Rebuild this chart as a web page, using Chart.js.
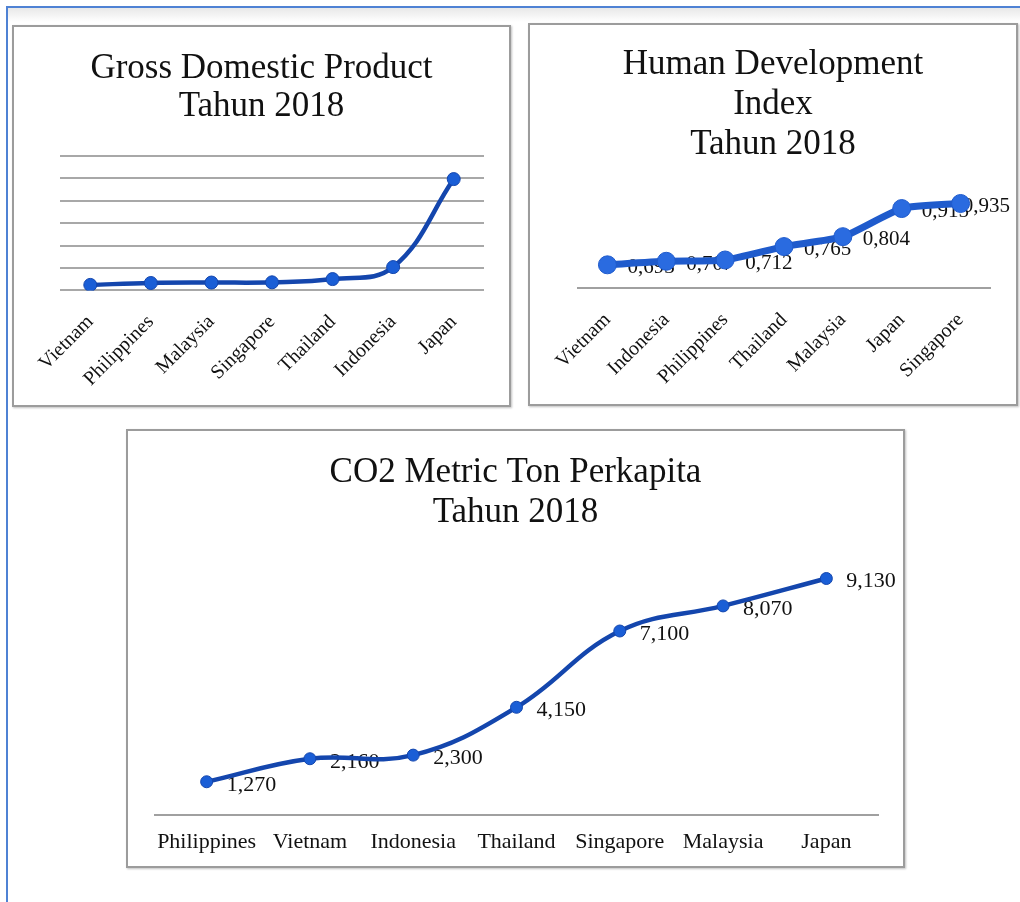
<!DOCTYPE html>
<html>
<head>
<meta charset="utf-8">
<script src="https://cdn.jsdelivr.net/npm/chart.js@4.4.1/dist/chart.umd.min.js"></script>
<style>
  body { margin: 0; background: #fff; width: 1020px; height: 902px; position: relative; overflow: hidden; }
  .frame-top { position: absolute; left: 6px; top: 6px; right: 0; height: 2px; background: #4f82d4; }
  .frame-left { position: absolute; left: 6px; top: 6px; bottom: 0; width: 2px; background: #4f82d4; }
  .shade { position: absolute; left: 8px; top: 8px; right: 0; height: 14px; background: linear-gradient(#e8e8e8, #fff); }
  .panel { position: absolute; border: 2px solid #9c9c9c; box-shadow: 1px 1px 2px rgba(0,0,0,.25); background: #fff; }
  .panel canvas { display: block; }
</style>
</head>
<body>
<div class="frame-top"></div>
<div class="shade"></div>
<div class="frame-left"></div>

<div class="panel" style="left:12px; top:25px;"><canvas id="gdp-chart" width="495" height="378"></canvas></div>
<div class="panel" style="left:528px; top:23px;"><canvas id="hdi-chart" width="486" height="379"></canvas></div>
<div class="panel" style="left:126px; top:429px;"><canvas id="co2-chart" width="775" height="435"></canvas></div>

<script>
// data
const gdpCountries = ['Vietnam', 'Philippines', 'Malaysia', 'Singapore', 'Thailand', 'Indonesia', 'Japan'];
const gdpValues = [245, 330, 350, 360, 505, 1040, 4970]; // USD billion, no tick labels shown
const gdpMax = 6000;
const gdpStep = 1000;

const hdiCountries = ['Vietnam', 'Indonesia', 'Philippines', 'Thailand', 'Malaysia', 'Japan', 'Singapore'];
const hdiValues = [0.693, 0.707, 0.712, 0.765, 0.804, 0.915, 0.935];

const co2Countries = ['Philippines', 'Vietnam', 'Indonesia', 'Thailand', 'Singapore', 'Malaysia', 'Japan'];
const co2Values = [1.27, 2.16, 2.30, 4.15, 7.10, 8.07, 9.13];

const serif = "'Liberation Serif', 'Times New Roman', serif";
const textColor = '#111';

// value labels drawn beside each point (before the line, so the line sits on top)
const valueLabels = {
  id: 'valueLabels',
  beforeDatasetsDraw(chart, args, opts) {
    if (!opts.show) return;
    const ctx = chart.ctx;
    const meta = chart.getDatasetMeta(0);
    const data = chart.data.datasets[0].data;
    ctx.save();
    ctx.font = opts.size + 'px ' + serif;
    ctx.fillStyle = textColor;
    ctx.textAlign = 'left';
    ctx.textBaseline = 'middle';
    meta.data.forEach((pt, i) => {
      const txt = data[i].toFixed(3).replace('.', ',');
      let x = pt.x + opts.dx;
      const w = ctx.measureText(txt).width;
      // keep the label inside the panel, like the spreadsheet does
      if (x + w > chart.width - 6) x = chart.width - 6 - w;
      ctx.fillText(txt, x, pt.y + opts.dy);
    });
    ctx.restore();
  }
};

new Chart(document.getElementById('gdp-chart'), {
  type: 'line',
  data: {
    labels: gdpCountries,
    datasets: [{
      data: gdpValues,
      borderColor: '#1446ad',
      borderWidth: 4.5,
      backgroundColor: '#1a5ed6',
      pointBackgroundColor: '#1a5ed6',
      pointBorderColor: '#1446ad',
      pointBorderWidth: 1,
      pointRadius: 6.5,
      tension: 0.4
    }]
  },
  options: {
    responsive: false,
    animation: false,
    layout: { padding: { left: 25, right: 25, top: 0, bottom: -6 } },
    plugins: {
      legend: { display: false },
      tooltip: { enabled: false },
      title: {
        display: true,
        text: ['Gross Domestic Product', 'Tahun 2018'],
        color: textColor,
        font: { family: serif, size: 35, weight: 'normal', lineHeight: 1.086 },
        padding: { top: 23, bottom: 30 }
      }
    },
    scales: {
      x: {
        offset: true,
        grid: { display: false, drawTicks: false },
        border: { display: false },
        ticks: {
          autoSkip: false, minRotation: 45, maxRotation: 45, padding: 20,
          color: textColor, font: { family: serif, size: 20 }
        }
      },
      y: {
        min: 0, max: gdpMax,
        grid: { color: '#a8a8a8', lineWidth: 2, drawTicks: false },
        border: { display: false },
        ticks: { display: false, stepSize: gdpStep },
        afterFit(axis) { axis.width = 21; }
      }
    }
  }
});

new Chart(document.getElementById('hdi-chart'), {
  type: 'line',
  data: {
    labels: hdiCountries,
    datasets: [{
      data: hdiValues,
      borderColor: '#1f5bcc',
      borderWidth: 7,
      backgroundColor: '#2a6be0',
      pointBackgroundColor: '#2a6be0',
      pointBorderColor: '#1f5bcc',
      pointBorderWidth: 1,
      pointRadius: 9,
      tension: 0.2
    }]
  },
  options: {
    responsive: false,
    animation: false,
    layout: { padding: { left: 26, right: 26, top: 0, bottom: -5 } },
    plugins: {
      legend: { display: false },
      tooltip: { enabled: false },
      valueLabels: { show: true, size: 21, dx: 20, dy: 3 },
      title: {
        display: true,
        text: ['Human Development', 'Index', 'Tahun 2018'],
        color: textColor,
        font: { family: serif, size: 35, weight: 'normal', lineHeight: 1.143 },
        padding: { top: 20, bottom: 22 }
      }
    },
    scales: {
      x: {
        offset: true,
        grid: { display: false, drawTicks: false },
        border: { display: true, color: '#a0a0a0', width: 2 },
        ticks: {
          autoSkip: false, minRotation: 45, maxRotation: 45, padding: 20,
          color: textColor, font: { family: serif, size: 20 }
        }
      },
      y: {
        min: 0.6, max: 1.0,
        grid: { display: false, drawTicks: false },
        border: { display: false },
        ticks: { display: false },
        afterFit(axis) { axis.width = 22; }
      }
    }
  },
  plugins: [valueLabels]
});

new Chart(document.getElementById('co2-chart'), {
  type: 'line',
  data: {
    labels: co2Countries,
    datasets: [{
      data: co2Values,
      borderColor: '#1446ad',
      borderWidth: 4.5,
      backgroundColor: '#1a5ed6',
      pointBackgroundColor: '#1a5ed6',
      pointBorderColor: '#1446ad',
      pointBorderWidth: 1,
      pointRadius: 6,
      tension: 0.4
    }]
  },
  options: {
    responsive: false,
    animation: false,
    layout: { padding: { left: 25, right: 25, top: 0, bottom: -3 } },
    plugins: {
      legend: { display: false },
      tooltip: { enabled: false },
      valueLabels: { show: true, size: 22, dx: 20, dy: 3 },
      title: {
        display: true,
        text: ['CO2 Metric Ton Perkapita', 'Tahun 2018'],
        color: textColor,
        font: { family: serif, size: 35, weight: 'normal', lineHeight: 1.143 },
        padding: { top: 22, bottom: 23 }
      }
    },
    scales: {
      x: {
        offset: true,
        grid: { display: false, drawTicks: false },
        border: { display: true, color: '#a0a0a0', width: 2 },
        ticks: {
          autoSkip: false, maxRotation: 0, padding: 14,
          color: textColor, font: { family: serif, size: 22 }
        }
      },
      y: {
        min: 0, max: 10,
        grid: { display: false, drawTicks: false },
        border: { display: false },
        ticks: { display: false },
        afterFit(axis) { axis.width = 2; }
      }
    }
  },
  plugins: [valueLabels]
});
</script>
</body>
</html>
